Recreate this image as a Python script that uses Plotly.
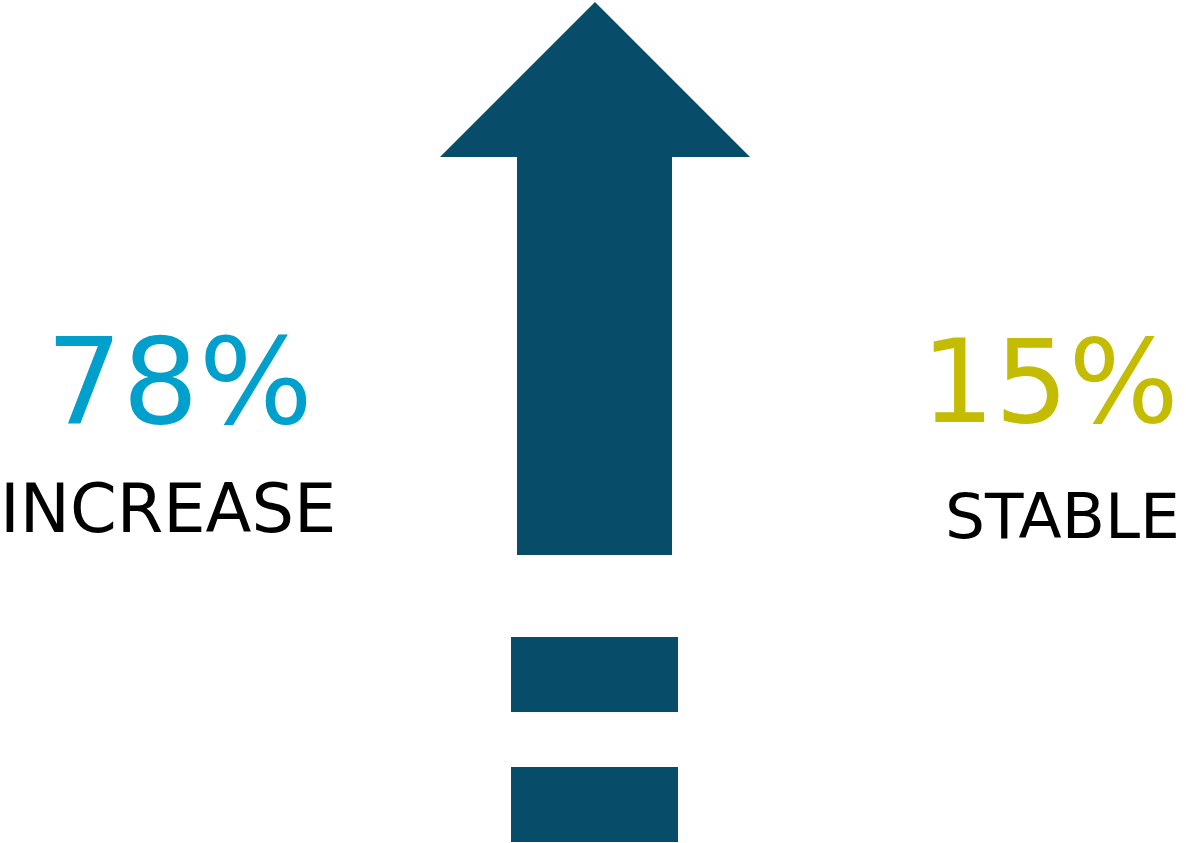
import plotly.graph_objects as go

# ---- data ----
categories = ["INCREASE", "STABLE"]
percentages = [78, 15]
value_colors = ["#00A0CC", "#C4BC00"]

W, H = 1186, 843
ICON = "#074D69"

fig = go.Figure()

# arrow icon (up arrow)
arrow_x = [595, 750, 672, 672, 517, 517, 440, 595]
arrow_y = [2, 157, 157, 555, 555, 157, 157, 2]
fig.add_trace(go.Scatter(x=arrow_x, y=arrow_y, mode="lines", fill="toself",
                         fillcolor=ICON, line=dict(width=0, color=ICON),
                         hoverinfo="skip", showlegend=False))
# equals icon
for y0, y1 in [(637, 712), (767, 842)]:
    fig.add_trace(go.Scatter(x=[511, 678, 678, 511, 511], y=[y0, y0, y1, y1, y0],
                             mode="lines", fill="toself", fillcolor=ICON,
                             line=dict(width=0, color=ICON), hoverinfo="skip",
                             showlegend=False))

# text blocks
val_x = [179, 1050]
lab_x = [168, 1062]
val_y = [381, 381]
lab_y = [509, 516]
val_size = [120, 116]
lab_size = [67, 63]
for i, cat in enumerate(categories):
    fig.add_annotation(x=val_x[i], y=val_y[i], text=f"{percentages[i]}%",
                       showarrow=False, xanchor="center", yanchor="middle",
                       borderpad=0,
                       font=dict(family="DejaVu Sans", size=val_size[i], color=value_colors[i]))
    fig.add_annotation(x=lab_x[i], y=lab_y[i], text=cat,
                       showarrow=False, xanchor="center", yanchor="middle",
                       borderpad=0,
                       font=dict(family="DejaVu Sans", size=lab_size[i], color="#000000"))

fig.update_layout(
    width=W, height=H, margin=dict(l=0, r=0, t=0, b=0),
    paper_bgcolor="white", plot_bgcolor="white",
    xaxis=dict(range=[0, W], visible=False, fixedrange=True),
    yaxis=dict(range=[H, 0], visible=False, fixedrange=True),
)
fig.write_html("out.html")
